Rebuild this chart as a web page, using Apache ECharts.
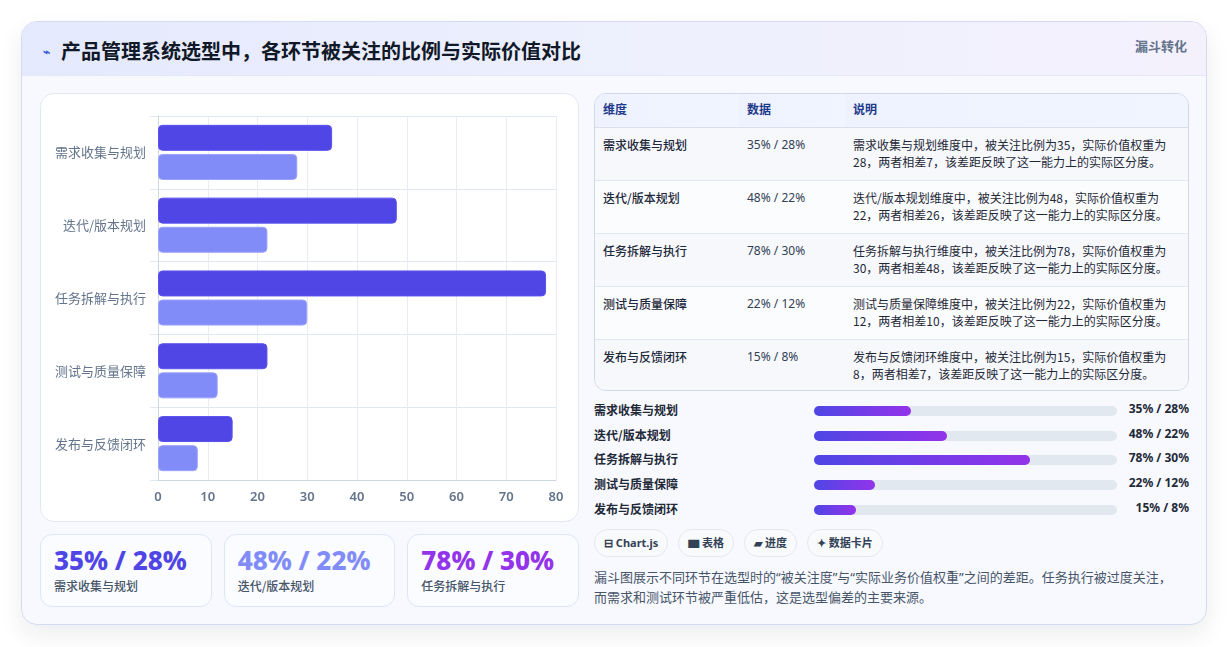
<!DOCTYPE html>
<html lang="zh-CN">
<head>
<meta charset="utf-8">
<title>产品管理系统选型中，各环节被关注的比例与实际价值对比</title>
<script src="https://cdn.jsdelivr.net/npm/echarts@6/dist/echarts.min.js"></script>
<style>
    * { box-sizing: border-box; margin: 0; padding: 0; }
    body {
        width: 1228px; height: 647px; overflow: hidden;
        background: #ffffff;
        font-family: "Noto Sans", "Noto Sans CJK SC", sans-serif;
        color: #1f2937;
    }
    .card {
        position: absolute; left: 21px; top: 21px; width: 1186px; height: 604px;
        border: 1px solid #d5dbf3; border-radius: 16px;
        background: #f8f9ff;
        box-shadow: 0 10px 24px rgba(15, 23, 42, 0.08);
        overflow: hidden;
    }
    .head {
        height: 54px; border-bottom: 1px solid #e3e7f6;
        background: linear-gradient(90deg, #e4e9fd 0%, #eef0fd 55%, #f4f1fd 100%);
        position: relative;
    }
    .head h1 {
        position: absolute; left: 21px; top: 14px;
        font-size: 20px; font-weight: 700; color: #111827; letter-spacing: 0;
        font-family: "Noto Sans CJK SC", sans-serif;
    }
    .head h1 span { color: #3b5bdb; font-size: 12px; margin-right: 11px; vertical-align: 3px; }
    .head .tag {
        position: absolute; right: 19px; top: 14px;
        font-size: 13px; font-weight: 700; color: #64748b;
        font-family: "Noto Sans CJK SC", sans-serif;
    }
    .chart-box {
        position: absolute; left: 18px; top: 71px; width: 539px; height: 429px;
        background: #ffffff; border: 1px solid #e2e8f0; border-radius: 14px;
    }
    #chart { width: 100%; height: 100%; }
    .kpis { position: absolute; left: 18px; top: 512px; width: 539px; height: 73px; display: flex; gap: 12px; }
    .kpi {
        flex: 1; border: 1px solid #dde6f7; border-radius: 12px; background: #fbfcff;
        padding: 10px 13px 0;
    }
    .kpi .v { font-size: 26px; font-weight: 800; line-height: 30px; font-family: "Noto Sans", sans-serif; }
    .kpi .l { font-size: 12px; color: #475569; margin-top: 2px; font-family: "Noto Sans CJK SC", sans-serif; font-weight: 500; }
    .table-box {
        position: absolute; left: 572px; top: 71px; width: 595px; height: 298px;
        border: 1px solid #cfd8e6; border-radius: 12px; overflow: hidden; background: #f8fafc;
    }
    table { width: 100%; border-collapse: collapse; font-family: "Noto Sans CJK SC", sans-serif; font-size: 12px; }
    th {
        text-align: left; font-weight: 700; color: #1e3a8a; height: 33px; padding: 0 8px 3px;
        background: linear-gradient(90deg, #eef2ff, #f0f5ff);
        border-bottom: 1px solid #d8e0ee;
    }
    td { vertical-align: top; padding: 8px 8px 0; height: 53px; color: #1f2937; line-height: 17px; border-bottom: 1px solid #e2e8f0; }
    tr:last-child td { border-bottom: none; }
    tbody tr:nth-child(odd) td { background: #f6f8fc; }
    tbody tr:nth-child(even) td { background: #fbfcfe; }
    td.n { font-weight: 500; color: #1e293b; }
    td.d { color: #334155; font-family: "Noto Sans", "Noto Sans CJK SC", sans-serif; }
    .bars { position: absolute; left: 572px; top: 377px; width: 595px; }
    .row { position: relative; height: 24.7px; font-size: 12px; font-weight: 700; font-family: "Noto Sans CJK SC", sans-serif; }
    .row .lab { position: absolute; left: 0; top: 2px; color: #1f2937; }
    .row .track { position: absolute; left: 220px; top: 7px; width: 303px; height: 10px; border-radius: 5px; background: #e2e8f0; }
    .row .fill { height: 100%; border-radius: 5px; background: linear-gradient(90deg, #4f46e5, #9333ea); }
    .row .val { position: absolute; right: 0; top: 1px; color: #1f2937; font-family: "Noto Sans", sans-serif; }
    .chips { position: absolute; left: 572px; top: 507px; display: flex; gap: 10px; }
    .chip {
        height: 28px; line-height: 26px; padding: 0 9px; border-radius: 14px;
        border: 1px solid #e3e8ef; background: #f8fafc;
        font-size: 11px; font-weight: 700; color: #334155;
        font-family: "Noto Sans", "Noto Sans CJK SC", sans-serif;
    }
    .desc {
        position: absolute; left: 572px; top: 545px; width: 610px; white-space: nowrap;
        font-size: 13px; line-height: 20px; color: #475569;
        font-family: "Noto Sans", "Noto Sans CJK SC", sans-serif;
    }
</style>
</head>
<body>
<div class="card">
    <div class="head">
        <h1><span>⌁</span>产品管理系统选型中，各环节被关注的比例与实际价值对比</h1>
        <div class="tag">漏斗转化</div>
    </div>
    <div class="chart-box"><div id="chart"></div></div>
    <div class="kpis" id="kpis"></div>
    <div class="table-box">
        <table>
            <thead><tr><th style="width:144px">维度</th><th style="width:106px">数据</th><th>说明</th></tr></thead>
            <tbody id="rows"></tbody>
        </table>
    </div>
    <div class="bars" id="bars"></div>
    <div class="chips">
        <div class="chip">⊟ Chart.js</div>
        <div class="chip">▆ 表格</div>
        <div class="chip">▰ 进度</div>
        <div class="chip">✦ 数据卡片</div>
    </div>
    <div class="desc">漏斗图展示不同环节在选型时的“被关注度”与“实际业务价值权重”之间的差距。任务执行被过度关注，<br>而需求和测试环节被严重低估，这是选型偏差的主要来源。</div>
</div>
<script>
    // 数据
    var categories = ['需求收集与规划', '迭代/版本规划', '任务拆解与执行', '测试与质量保障', '发布与反馈闭环'];
    var attention = [35, 48, 78, 22, 15];   // 被关注比例
    var actualValue = [28, 22, 30, 12, 8];  // 实际价值权重
    var kpiColors = ['#4f46e5', '#818cf8', '#9333ea'];

    // 表格
    var rowsHtml = '';
    for (var i = 0; i < categories.length; i++) {
        var diff = attention[i] - actualValue[i];
        rowsHtml += '<tr><td class="n">' + categories[i] + '</td>' +
            '<td class="d">' + attention[i] + '% / ' + actualValue[i] + '%</td>' +
            '<td>' + categories[i] + '维度中，被关注比例为' + attention[i] + '，实际价值权重为' +
            actualValue[i] + '，两者相差' + diff + '，该差距反映了这一能力上的实际区分度。</td></tr>';
    }
    document.getElementById('rows').innerHTML = rowsHtml;

    // 进度条
    var barsHtml = '';
    for (var j = 0; j < categories.length; j++) {
        barsHtml += '<div class="row"><span class="lab">' + categories[j] + '</span>' +
            '<div class="track"><div class="fill" style="width:' + (attention[j] * 0.914) + '%"></div></div>' +
            '<span class="val">' + attention[j] + '% / ' + actualValue[j] + '%</span></div>';
    }
    document.getElementById('bars').innerHTML = barsHtml;

    // 数据卡片
    var kpiHtml = '';
    for (var k = 0; k < 3; k++) {
        kpiHtml += '<div class="kpi"><div class="v" style="color:' + kpiColors[k] + '">' +
            attention[k] + '% / ' + actualValue[k] + '%</div><div class="l">' + categories[k] + '</div></div>';
    }
    document.getElementById('kpis').innerHTML = kpiHtml;

    var chart = echarts.init(document.getElementById('chart'));
    var option = {
        animation: false,
        grid: {
            left: 117,
            right: 22,
            top: 22,
            bottom: 41
        },
        xAxis: {
            type: 'value',
            min: 0,
            max: 80,
            interval: 10,
            axisLine: {show: true, lineStyle: {color: '#cfd6e2'}},
            axisTick: {show: false},
            splitLine: {lineStyle: {color: '#e8edf5'}},
            axisLabel: {color: '#64748b', fontSize: 13, fontWeight: 600, margin: 11, fontFamily: 'Noto Sans'}
        },
        yAxis: {
            type: 'category',
            inverse: true,
            data: categories,
            axisLine: {show: true, lineStyle: {color: '#cfd6e2'}},
            axisTick: {show: true, length: 8, lineStyle: {color: '#e2e8f0'}},
            splitLine: {show: true, lineStyle: {color: '#e2e8f0'}},
            axisLabel: {color: '#64748b', fontSize: 13, margin: 12, fontFamily: 'Noto Sans CJK SC'}
        },
        series: [
            {
                name: '被关注比例',
                type: 'bar',
                data: attention,
                barWidth: 26,
                barGap: '12%',
                itemStyle: {color: '#4f46e5', borderColor: '#5b52ee', borderWidth: 1, borderRadius: 4}
            },
            {
                name: '实际价值权重',
                type: 'bar',
                data: actualValue,
                barWidth: 26,
                itemStyle: {color: '#818cf8', borderColor: '#9aa3fa', borderWidth: 1, borderRadius: 4}
            }
        ]
    };
    chart.setOption(option);
    window.onresize = chart.resize;
</script>
</body>
</html>
